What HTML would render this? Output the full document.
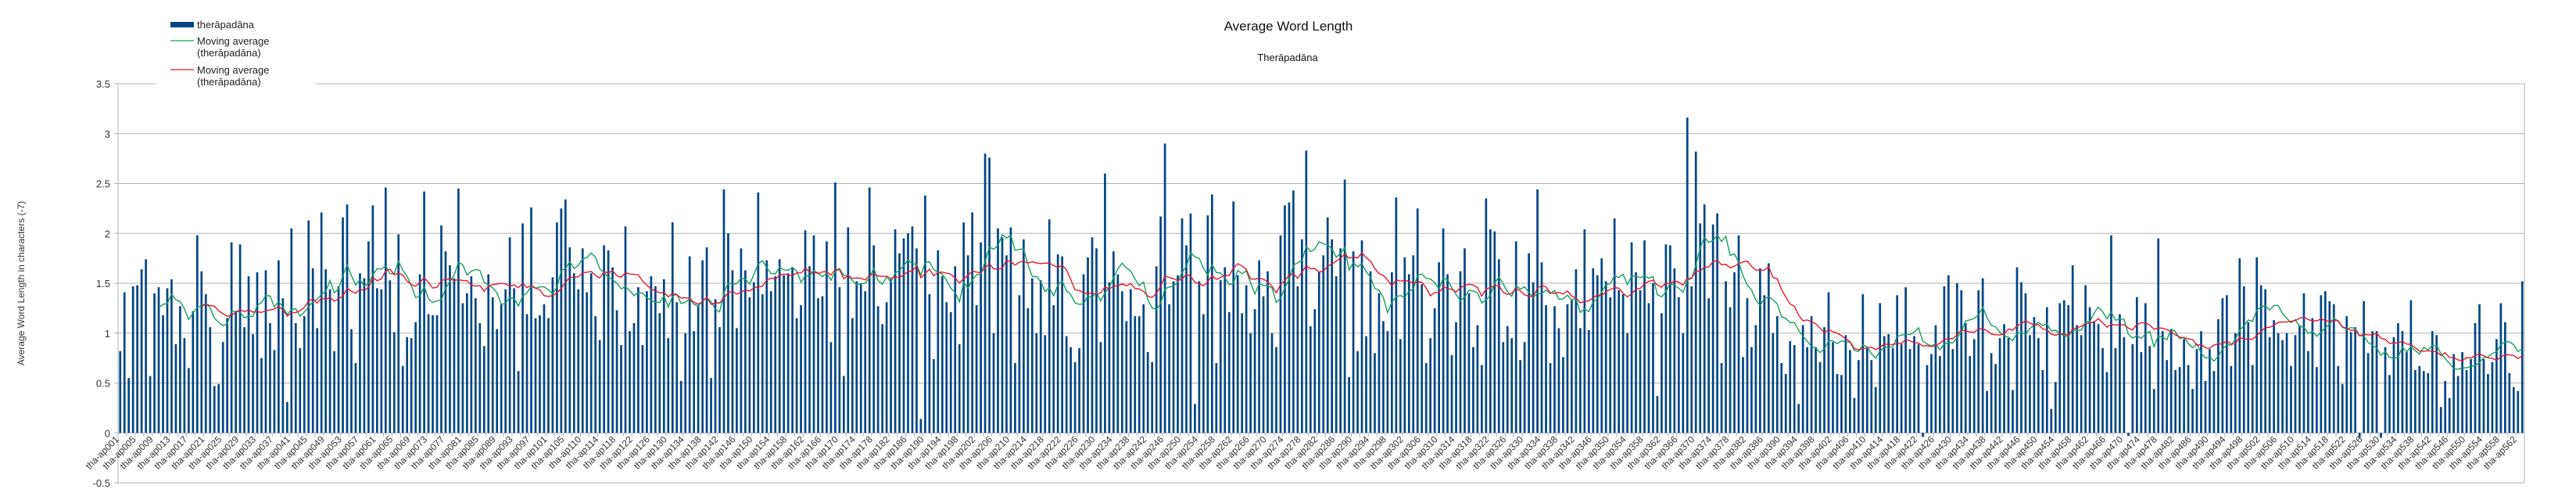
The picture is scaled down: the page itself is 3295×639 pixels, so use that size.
<!DOCTYPE html>
<html><head><meta charset="utf-8"><title>Average Word Length</title>
<style>
html,body{margin:0;padding:0;background:#fff;}
svg{display:block;font-family:"Liberation Sans",Arial,sans-serif;}
</style></head>
<body>
<svg id="chart" width="3295" height="639" viewBox="0 0 3295 639" xmlns="http://www.w3.org/2000/svg">
<text x="1648" y="39" font-size="17" text-anchor="middle" fill="#111">Average Word Length</text>
<text x="1647" y="78" font-size="13" text-anchor="middle" fill="#111">Therāpadāna</text>
<text x="0" y="0" font-size="12" text-anchor="middle" fill="#333" transform="translate(31,362) rotate(-90)">Average Word Length in characters (-7)</text>
<g id="grid"></g>
<g id="bars"></g>
<g id="lines"></g>
<g id="axes"></g>
<g id="legend">
  <rect x="200" y="20" width="204" height="96" fill="#fff"/>
  <rect x="218" y="28" width="30" height="7" fill="#004586"/>
  <text x="252" y="36" font-size="13" fill="#222">therāpadāna</text>
  <line x1="218" y1="52" x2="248" y2="52" stroke="#14a05e" stroke-width="1.3"/>
  <text x="252" y="57" font-size="13" fill="#222">Moving average</text>
  <text x="252" y="72" font-size="13" fill="#222">(therāpadāna)</text>
  <line x1="218" y1="89" x2="248" y2="89" stroke="#e3192f" stroke-width="1.3"/>
  <text x="252" y="94" font-size="13" fill="#222">Moving average</text>
  <text x="252" y="109" font-size="13" fill="#222">(therāpadāna)</text>
</g>
</svg>
<script>
const values = [
0.82,1.41,0.55,1.47,1.48,1.64,1.74,0.57,1.40,1.46,1.18,1.45,1.54,0.89,1.27,0.95,0.65,1.22,1.98,1.62,
1.39,1.06,0.47,0.49,0.91,1.15,1.91,1.21,1.89,1.06,1.57,0.99,1.61,0.75,1.63,1.10,0.83,1.73,1.35,0.31,
2.05,1.10,0.85,1.17,2.13,1.65,1.05,2.21,1.64,1.44,0.82,1.47,2.16,2.29,1.04,0.70,1.60,1.55,1.92,2.28,
1.45,1.44,2.46,1.53,1.01,1.99,0.67,0.96,0.95,1.11,1.59,2.42,1.19,1.18,1.18,2.08,1.82,1.68,1.55,2.45,
1.30,1.40,1.57,1.35,1.10,0.87,1.59,1.36,1.04,1.29,1.44,1.96,1.45,0.62,2.10,1.19,2.26,1.15,1.18,1.29,
1.15,1.56,2.11,2.25,2.34,1.86,1.60,1.44,1.85,1.41,1.60,1.17,0.93,1.88,1.83,1.66,1.23,0.88,2.07,
1.02,1.10,1.46,0.88,1.42,1.57,1.47,1.20,1.54,0.95,2.11,1.31,0.52,1.00,1.77,1.02,1.28,1.73,1.86,0.55,
1.34,1.06,2.44,2.00,1.63,1.05,1.85,1.63,1.36,1.51,2.41,1.39,1.73,1.42,1.57,1.74,1.58,1.60,1.65,1.15,
1.28,2.03,1.67,1.98,1.35,1.37,1.92,0.91,2.51,1.46,0.57,2.06,1.15,1.52,1.49,1.42,2.46,1.88,1.27,1.09,
1.31,1.54,2.04,1.80,1.95,
2.00,2.07,1.85,0.14,2.38,1.39,0.74,1.83,1.57,1.31,1.21,1.67,0.89,2.11,1.78,2.21,1.28,1.91,2.80,2.76,
1.00,2.05,1.96,1.78,2.06,0.70,1.38,1.94,1.25,1.55,1.00,1.53,0.98,2.14,1.28,1.79,1.77,0.97,0.86,0.71,
0.85,1.59,1.76,1.96,1.85,0.91,2.60,1.51,1.82,1.59,1.42,1.12,1.44,1.17,1.17,1.29,0.81,0.71,1.67,2.17,
2.90,1.29,1.52,
1.58,2.15,1.88,2.20,0.29,1.52,1.19,2.18,2.39,0.70,1.53,1.66,1.21,2.32,1.58,1.20,1.48,1.00,1.24,1.73,
1.37,1.62,1.00,0.86,1.98,2.28,2.31,2.43,1.47,1.94,2.83,1.07,1.24,1.61,1.78,2.16,1.94,1.57,1.85,2.54,
0.56,1.82,0.82,1.93,0.97,1.62,0.80,1.40,1.12,1.02,1.61,2.36,0.94,1.76,1.59,1.78,2.25,1.49,0.70,0.95,
1.25,1.71,2.05,1.59,0.78,
1.11,1.62,1.85,1.40,0.86,1.08,0.68,2.35,2.04,2.02,1.74,0.91,1.07,0.95,1.92,0.73,0.91,1.80,1.51,2.44,
1.71,1.28,0.70,1.27,1.05,0.76,1.29,1.33,1.64,1.05,2.04,1.03,1.65,1.58,1.75,1.52,1.36,2.15,1.43,1.39,
1.00,1.91,1.61,1.43,1.93,1.30,1.50,0.37,1.20,1.89,1.88,1.65,1.36,1.00,3.16,1.47,2.82,2.10,2.29,1.35,
2.09,2.20,0.70,1.52,
1.26,1.61,1.98,0.76,1.35,0.86,1.08,1.65,1.38,1.70,1.00,1.17,0.70,0.59,0.92,0.88,0.29,1.08,0.86,1.17,
0.86,0.71,1.06,1.41,0.91,0.59,0.58,0.98,0.83,0.35,0.73,1.39,0.85,0.73,0.46,1.30,0.97,0.99,0.85,1.38,
0.89,1.46,0.84,0.97,0.89,-0.04,0.68,0.79,1.08,0.77,1.47,1.58,0.84,1.50,1.43,1.10,0.77,0.94,1.43,1.55,
0.42,0.80,0.69,0.95,1.09,
0.95,0.43,1.66,1.51,1.40,0.98,1.16,0.95,0.63,1.26,0.24,0.51,1.30,1.33,1.28,1.68,1.08,0.98,1.48,1.26,
1.12,1.09,0.85,0.61,1.98,0.85,1.19,0.96,-0.03,0.89,1.36,0.81,1.30,0.87,0.44,1.95,1.02,0.73,1.04,0.63,
0.66,0.94,0.68,0.44,0.84,1.02,0.52,0.84,0.62,1.14,1.35,1.38,0.67,1.00,1.75,1.47,1.11,0.68,1.76,1.48,
1.44,0.96,1.13,1.00,
0.93,1.00,0.67,0.98,1.08,1.40,0.82,1.15,0.66,1.38,1.42,1.32,1.29,0.67,0.49,1.17,1.01,1.06,-0.05,1.32,
0.80,1.02,1.02,-0.05,0.86,0.58,0.96,1.10,1.02,0.81,1.33,0.63,0.67,0.62,0.60,1.02,0.98,0.26,0.52,0.35,
0.79,0.57,0.81,0.63,0.74,1.10,1.29,0.74,0.59,0.71,0.94,1.30,1.11,0.60,0.46,0.42,1.52
];
const yTicks = [-0.5,0,0.5,1,1.5,2,2.5,3,3.5];
const yTickLabels = ["-0.5","0","0.5","1","1.5","2","2.5","3","3.5"];
const greenPeriod = 10;
const redPeriod = 20;
const skippedNumbers = [106];
const categories = [];
for (let n = 1; categories.length < values.length; n++) {
  if (skippedNumbers.indexOf(n) >= 0) continue;
  categories.push("tha-ap" + String(n).padStart(3, "0"));
}

const NS = "http://www.w3.org/2000/svg";
const plotL = 151, plotR = 3229, yMin = -0.5, yMax = 3.5, plotTop = 107, plotBot = 617;
const band = (plotR - plotL) / values.length;
function xPos(i) { return plotL + band * (i + 0.5); }
function yPos(v) { return plotBot - (v - yMin) / (yMax - yMin) * (plotBot - plotTop); }
function mk(tag, attrs, parent) {
  const el = document.createElementNS(NS, tag);
  for (const k in attrs) el.setAttribute(k, attrs[k]);
  parent.appendChild(el);
  return el;
}
const grid = document.getElementById("grid");
const axes = document.getElementById("axes");
const bars = document.getElementById("bars");
const lines = document.getElementById("lines");

yTicks.forEach((t, k) => {
  const y = yPos(t);
  const gl = mk("line", {x1: plotL - 5, x2: plotR, y1: y, y2: y, stroke: "#b3b3b3", "stroke-width": 1}, grid);
  
  
  const tl = mk("text", {x: plotL - 10, y: y + 5, "font-size": 13, "text-anchor": "end", fill: "#333"}, axes);
  tl.textContent = yTickLabels[k];
  
  
});
const yAxis = mk("line", {x1: plotL, x2: plotL, y1: plotTop, y2: plotBot, stroke: "#b3b3b3", "stroke-width": 1}, axes);


const rAxis = mk("line", {x1: plotR, x2: plotR, y1: plotTop, y2: plotBot, stroke: "#b3b3b3", "stroke-width": 1}, axes);


const y0 = yPos(0);
for (let i = 0; i <= values.length; i += 2) {
  const x = plotL + band * i;
  const tk = mk("line", {x1: x, x2: x, y1: y0, y2: y0 + 5, stroke: "#b3b3b3", "stroke-width": 1}, axes);
  
  
}
values.forEach((v, i) => {
  const x = xPos(i);
  const top = Math.min(yPos(v), y0), h = Math.abs(yPos(v) - y0);
  const b = mk("rect", {x: x - 1.35, y: top, width: 2.7, height: Math.max(h, 0.5), fill: "#004586"}, bars);
  
  
  if (i % 4 === 0) {
    const lx = x - 1, ly = y0 + 9;
    const t = mk("text", {x: lx, y: ly, "font-size": 12, "text-anchor": "end", fill: "#333", transform: "rotate(-45 " + lx + " " + ly + ")"}, axes);
    t.textContent = categories[i];
    
    
  }
});
function movingAverage(p) {
  const pts = [];
  for (let i = p - 1; i < values.length; i++) {
    let s = 0;
    for (let j = i - p + 1; j <= i; j++) s += values[j];
    pts.push(xPos(i).toFixed(2) + "," + yPos(s / p).toFixed(2));
  }
  return pts.join(" ");
}
const g = mk("polyline", {points: movingAverage(greenPeriod), fill: "none", stroke: "#14a05e", "stroke-width": 1.4}, lines);


const r = mk("polyline", {points: movingAverage(redPeriod), fill: "none", stroke: "#e3192f", "stroke-width": 1.4}, lines);


</script>
</body></html>
